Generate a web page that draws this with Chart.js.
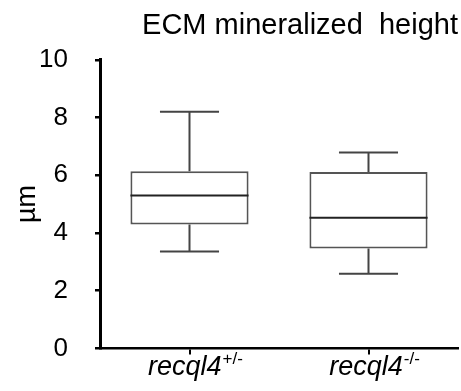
<!DOCTYPE html>
<html>
<head>
<meta charset="utf-8">
<script src="https://cdn.jsdelivr.net/npm/chart.js@4"></script>
<style>
  html, body { margin: 0; padding: 0; background: #fff; }
  #wrap { width: 461px; height: 391px; }
</style>
</head>
<body>
<div id="wrap"><canvas id="ecm"></canvas></div>
<script>
// groups (base name + superscript genotype)
const groupNames = ['recql4', 'recql4'];
const genotypes = ['+/-', '-/-'];

// box plot summary values (µm)
const whiskerMin = [3.36, 2.59];
const q1 = [4.29, 3.46];
const median = [5.30, 4.53];
const q3 = [6.14, 6.11];
const whiskerMax = [8.20, 6.79];

// y axis
const yMin = 0;
const yMax = 10;
const yStep = 2;

const FONT = "'Liberation Sans', Arial, sans-serif";

// whiskers, caps and median lines, placed with the chart's own scales
const boxExtras = {
  id: 'boxExtras',
  afterDatasetsDraw(chart) {
    const ctx = chart.ctx;
    const y = chart.scales.y;
    const meta = chart.getDatasetMeta(0);
    ctx.save();
    meta.data.forEach((bar, i) => {
      const x = bar.x;
      const half = bar.width / 2;
      const cap = bar.width / 4;
      ctx.strokeStyle = '#444';
      ctx.lineWidth = 2;
      ctx.beginPath();
      // upper whisker
      ctx.moveTo(x, y.getPixelForValue(q3[i]));
      ctx.lineTo(x, y.getPixelForValue(whiskerMax[i]));
      ctx.moveTo(x - cap, y.getPixelForValue(whiskerMax[i]));
      ctx.lineTo(x + cap, y.getPixelForValue(whiskerMax[i]));
      // lower whisker
      ctx.moveTo(x, y.getPixelForValue(q1[i]));
      ctx.lineTo(x, y.getPixelForValue(whiskerMin[i]));
      ctx.moveTo(x - cap, y.getPixelForValue(whiskerMin[i]));
      ctx.lineTo(x + cap, y.getPixelForValue(whiskerMin[i]));
      ctx.stroke();
      // median
      ctx.strokeStyle = '#222';
      ctx.beginPath();
      ctx.moveTo(x - half, y.getPixelForValue(median[i]));
      ctx.lineTo(x + half, y.getPixelForValue(median[i]));
      ctx.stroke();
    });
    ctx.restore();
  },
  afterDraw(chart) {
    // x labels with superscript genotype
    const ctx = chart.ctx;
    const xs = chart.scales.x;
    const base = chart.chartArea.bottom + 27;
    ctx.save();
    ctx.fillStyle = '#000';
    ctx.textBaseline = 'alphabetic';
    ctx.textAlign = 'left';
    groupNames.forEach((name, i) => {
      ctx.font = 'italic 27px ' + FONT;
      const w1 = ctx.measureText(name).width;
      ctx.font = '17px ' + FONT;
      const w2 = ctx.measureText(genotypes[i]).width;
      const left = xs.getPixelForTick(i) + 6 - (w1 + w2 + 1) / 2;
      ctx.font = 'italic 27px ' + FONT;
      ctx.fillText(name, left, base);
      ctx.font = '17px ' + FONT;
      ctx.fillText(genotypes[i], left + w1 + 1, base - 11);
    });
    ctx.restore();
  }
};

new Chart(document.getElementById('ecm'), {
  type: 'bar',
  data: {
    labels: groupNames.map((n, i) => n + genotypes[i]),
    datasets: [{
      data: q1.map((v, i) => [v, q3[i]]),
      backgroundColor: '#fff',
      borderColor: '#555',
      borderWidth: 2,
      borderSkipped: false,
      barPercentage: 0.66,
      categoryPercentage: 1
    }]
  },
  options: {
    responsive: true,
    maintainAspectRatio: false,
    animation: false,
    layout: { padding: { top: 0, right: 3, left: 0, bottom: 0 } },
    plugins: {
      legend: { display: false },
      tooltip: { enabled: false },
      title: {
        display: true,
        text: 'ECM mineralized  height',
        align: 'end',
        color: '#000',
        font: { family: FONT, size: 29, weight: 'normal' },
        padding: { top: 9, bottom: 16 }
      }
    },
    scales: {
      x: {
        grid: { display: true, drawOnChartArea: false, offset: false, tickLength: 6, color: '#000', lineWidth: 2 },
        border: { display: true, color: '#000', width: 2.5 },
        ticks: { display: false },
        afterFit(scale) { scale.height = 42.5; }
      },
      y: {
        min: yMin,
        max: yMax,
        ticks: {
          stepSize: yStep,
          color: '#000',
          padding: 27,
          font: { family: FONT, size: 26 }
        },
        grid: { display: true, drawOnChartArea: false, tickLength: 5, color: '#000', lineWidth: 2.5 },
        border: { display: true, color: '#000', width: 3 },
        title: {
          display: true,
          text: 'µm',
          color: '#000',
          font: { family: FONT, size: 27 },
          padding: { top: 11, bottom: 0 }
        },
        afterFit(scale) { scale.width = 100; }
      }
    }
  },
  plugins: [boxExtras]
});
</script>
</body>
</html>
